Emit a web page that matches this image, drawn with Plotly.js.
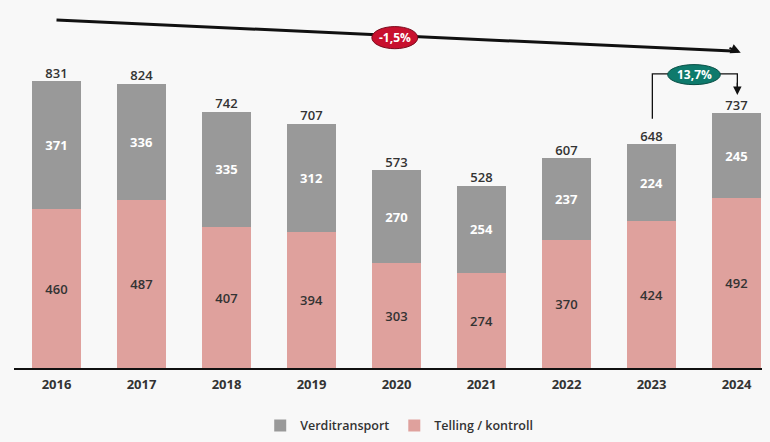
<!DOCTYPE html>
<html><head><meta charset="utf-8">
<script src="https://cdn.plot.ly/plotly-3.0.1.min.js"></script>
<style>html,body{margin:0;padding:0;background:#f8f8f8;}</style>
</head><body>
<div id="chart" style="width:770px;height:442px;"></div>
<script>
const years = ['2016','2017','2018','2019','2020','2021','2022','2023','2024'];
const telling = [460,487,407,394,303,274,370,424,492];
const verdi = [371,336,335,312,270,254,237,224,245];
const totals = [831,824,742,707,573,528,607,648,737];
const cagrLabel = '-1,5%';
const yoyLabel = '13,7%';

const FONT = '"Open Sans", "Noto Sans", sans-serif';
const traces = [
  {type:'bar', name:'Telling / kontroll', x:years, y:telling, marker:{color:'#dfa19d'},
   text:telling.map(String), textposition:'inside', insidetextanchor:'middle',
   textfont:{color:'#333333', size:13, family:FONT, weight:600}, hoverinfo:'none'},
  {type:'bar', name:'Verditransport', x:years, y:verdi, marker:{color:'#999999'},
   text:verdi.map(String), textposition:'inside', insidetextanchor:'middle',
   textfont:{color:'#ffffff', size:13, family:FONT, weight:700}, hoverinfo:'none'},
  {type:'scatter', mode:'text', x:years, y:totals, text:totals.map(String),
   textposition:'top center', textfont:{color:'#333333', size:13, family:FONT, weight:600},
   showlegend:false, hoverinfo:'none'}
];

const layout = {
  width:770, height:442,
  paper_bgcolor:'#f8f8f8', plot_bgcolor:'#f8f8f8',
  barmode:'stack', bargap:0.435,
  margin:{l:14, r:8, t:10, b:74, autoexpand:false},
  font:{family:FONT, color:'#333333'},
  xaxis:{type:'category', range:[-0.5, 8.3], showgrid:false, zeroline:false,
         showline:true, linecolor:'#111111', linewidth:1.5, ticks:'', ticklabelstandoff:4,
         tickfont:{size:13, family:FONT, color:'#333333', weight:700}},
  yaxis:{range:[0,1036], visible:false, showgrid:false, zeroline:false},
  showlegend:true,
  legend:{orientation:'h', x:0.515, xanchor:'center', y:-0.162, yanchor:'middle',
          font:{size:12.5, family:FONT, color:'#333333', weight:600}, traceorder:'reversed',
          bgcolor:'rgba(0,0,0,0)'},
  shapes:[
    {type:'line', xref:'x', yref:'y', x0:0, y0:1007, x1:7.95, y1:917, line:{color:'#111111', width:3}},
    {type:'circle', xref:'x', yref:'y', x0:3.71, x1:4.25, y0:924, y1:988, fillcolor:'#c8102e', line:{color:'#7a0a1c', width:1}},
    {type:'path', xref:'x', yref:'y', path:'M 7.01 721 L 7.01 851 L 8.01 851 L 8.01 800', line:{color:'#111111', width:1.3}},
    {type:'circle', xref:'x', yref:'y', x0:7.19, x1:7.81, y0:820, y1:878, fillcolor:'#0e7a6c', line:{color:'#0a4f46', width:1}}
  ],
  annotations:[
    {xref:'x', yref:'y', x:8.05, y:912, ax:7.9, ay:928.5, axref:'x', ayref:'y', text:'',
     showarrow:true, arrowhead:2, arrowsize:1, arrowwidth:2, arrowcolor:'#111111'},
    {xref:'x', yref:'y', x:8.01, y:790, ax:8.01, ay:830, axref:'x', ayref:'y', text:'',
     showarrow:true, arrowhead:2, arrowsize:1.3, arrowwidth:1.3, arrowcolor:'#111111'},
    {xref:'x', yref:'y', x:3.98, y:956, text:cagrLabel, showarrow:false,
     font:{color:'#ffffff', size:12, family:FONT, weight:700}},
    {xref:'x', yref:'y', x:7.5, y:849, text:yoyLabel, showarrow:false,
     font:{color:'#ffffff', size:12, family:FONT, weight:700}}
  ]
};
Plotly.newPlot('chart', traces, layout, {displayModeBar:false, staticPlot:true});
</script>
</body></html>
